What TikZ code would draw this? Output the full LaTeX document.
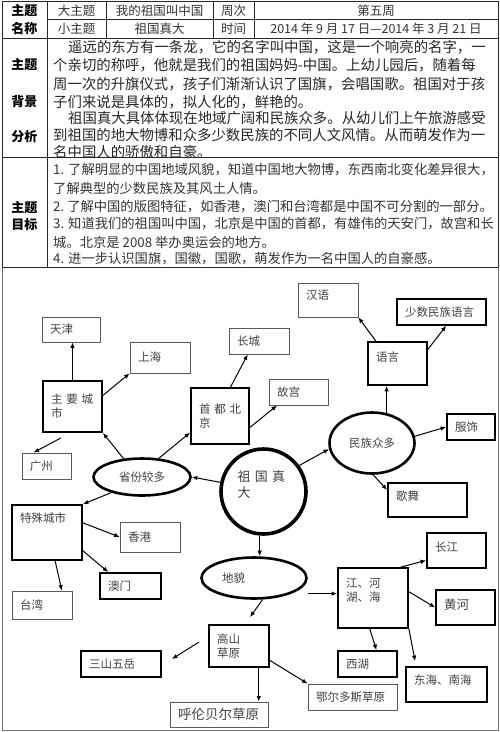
\documentclass[tikz,border=0pt]{standalone}
\usepackage{fontspec}
\setmainfont{Noto Sans CJK SC}
\usetikzlibrary{calc}
\usetikzlibrary{arrows.meta}
\usetikzlibrary{shapes.geometric}

\begin{document}
\begin{tikzpicture}[x=1pt, y=-1pt,
    tbl/.style={line width=0.8pt, black!85},
    cell/.style={inner sep=0pt, text=black!80, font=\fontsize{12.5}{15}\selectfont},
    head/.style={inner sep=0pt, font=\fontsize{13}{15}\selectfont\bfseries},
    para/.style={inner sep=0pt, anchor=west, text=black!85, font=\fontsize{14.4}{18}\selectfont},
    goal/.style={inner sep=0pt, anchor=west, text=black!80, font=\fontsize{13.3}{16}\selectfont},
    box/.style={draw, line width=1.8pt, text=black!75, align=left, inner xsep=8pt, inner ysep=2pt, font=\fontsize{11.5}{13.8}\selectfont},
    thinbox/.style={box, line width=0.8pt, draw=black!65},
    bubble/.style={draw, ellipse, line width=2.6pt, text=black!75, inner sep=0pt, font=\fontsize{11.5}{13.8}\selectfont},
    arr/.style={-{Latex[length=5.5pt,width=4.5pt]}, line width=1pt}]

    \useasboundingbox (0,0) rectangle (500,732);

    % table
    \draw[tbl] (2,267) -- (2,1) -- (498,1) -- (498,267);
    \draw[line width=0.9pt, black!55] (2,267) -- (2,730) -- (498,730) -- (498,267);
    \draw[tbl] (47,19) -- (498,19);
    \draw[tbl] (2,38) -- (498,38);
    \draw[tbl] (2,157) -- (498,157);
    \draw[tbl] (2,267) -- (498,267);
    \draw[tbl] (47,1) -- (47,267);
    \draw[tbl] (106,1) -- (106,38);
    \draw[tbl] (213,1) -- (213,38);
    \draw[tbl] (254,1) -- (254,38);

    \node[head] (h1) at (24.5,11) {主题};
    \node[head] (h2) at (24.5,29) {名称};
    \node[cell] (big) at (76.5,11) {大主题};
    \node[cell] (bigname) at (159.5,11) {我的祖国叫中国};
    \node[cell] (week) at (233.5,11) {周次};
    \node[cell] (weekno) at (376,11) {第五周};
    \node[cell] (small) at (76.5,29) {小主题};
    \node[cell] (smallname) at (159.5,29) {祖国真大};
    \node[cell] (time) at (233.5,29) {时间};
    \node[cell] (date) at (376,29) {2014 年 9 月 17 日—2014 年 3 月 21 日};

    \node[head] (bgA) at (24.5,65) {主题};
    \node[head] (bgB) at (24.5,102) {背景};
    \node[head] (bgC) at (24.5,137) {分析};
    \node[para] (bg1) at (68,47) {遥远的东方有一条龙，它的名字叫中国，这是一个响亮的名字，一};
    \node[para] (bg2) at (53,65.5) {个亲切的称呼，他就是我们的祖国妈妈-中国。上幼儿园后，随着每};
    \node[para] (bg3) at (53,84) {周一次的升旗仪式，孩子们渐渐认识了国旗，会唱国歌。祖国对于孩};
    \node[para] (bg4) at (53,102) {子们来说是具体的，拟人化的，鲜艳的。};
    \node[para] (bg5) at (68,118) {祖国真大具体体现在地域广阔和民族众多。从幼儿们上午旅游感受};
    \node[para] (bg6) at (53,135.5) {到祖国的地大物博和众多少数民族的不同人文风情。从而萌发作为一};
    \node[para] (bg7) at (53,151.5) {名中国人的骄傲和自豪。};

    \node[head] (gA) at (24.5,208) {主题};
    \node[head] (gB) at (24.5,225) {目标};
    \node[goal] (g1) at (53,170) {1. 了解明显的中国地域风貌，知道中国地大物博，东西南北变化差异很大，};
    \node[goal] (g2) at (53,188) {了解典型的少数民族及其风土人情。};
    \node[goal] (g3) at (53,207) {2.\ 了解中国的版图特征，如香港，澳门和台湾都是中国不可分割的一部分。};
    \node[goal] (g4) at (53,224) {3. 知道我们的祖国叫中国，北京是中国的首都，有雄伟的天安门，故宫和长};
    \node[goal] (g5) at (53,242) {城。北京是 2008 举办奥运会的地方。};
    \node[goal] (g6) at (53,259) {4. 进一步认识国旗，国徽，国歌，萌发作为一名中国人的自豪感。};

    % mind map
    \node[draw, circle, line width=3.6pt, minimum size=85pt, inner sep=0pt, text width=52pt, text depth=31pt, align=left, text=black!75, font=\fontsize{13}{15.6}\selectfont] (zuguo) at (263.5,491.5) {祖~国~真\\大};

    \node[bubble, minimum width=97pt, minimum height=37pt] (shengfen) at (142,477) {省份较多};
    \node[bubble, minimum width=85pt, minimum height=61pt] (minzu) at (372,443) {民族众多};
    \node[bubble, minimum width=105pt, minimum height=41pt, text width=64pt, align=left] (dimao) at (254,578) {地貌};

    \node[thinbox, minimum height=25pt, text width=42pt] (tianjin) at (71,329.5) {天津};
    \node[thinbox, minimum height=31pt, text width=44pt] (shanghai) at (160,357.5) {上海};
    \node[box, minimum height=51pt, text width=43pt] (zhuyao) at (72.5,406.5) {主~要~城\\市};
    \node[thinbox, minimum height=26pt, text width=33pt] (guangzhou) at (46.5,466) {广州};
    \node[box, minimum height=56pt, text width=42pt] (shoudu) at (220,416) {首~都~北\\京};
    \node[thinbox, minimum height=26pt, text width=44pt] (changcheng) at (259,341) {长城};
    \node[thinbox, minimum height=26pt, text width=43pt] (gugong) at (298.5,392) {故宫};

    \node[thinbox, minimum height=34pt, text width=44pt, text depth=11pt] (hanyu) at (328,300) {汉语};
    \node[box, line width=1.4pt, minimum height=26pt, text width=73pt] (shaoshu) at (441.5,312) {少数民族语言};
    \node[box, minimum height=43pt, text width=43pt, text depth=13.5pt] (yuyan) at (397.5,363.5) {语言};
    \node[box, minimum height=26pt, text width=32pt] (fushi) at (471,427) {服饰};
    \node[box, minimum height=34pt, text width=63pt, text depth=9.5pt] (gewu) at (427.5,500) {歌舞};

    \node[box, minimum height=55pt, text width=54pt, text depth=29.5pt] (teshu) at (47,532.5) {特殊城市};
    \node[thinbox, minimum height=30pt, text width=44pt] (xianggang) at (150,537) {香港};
    \node[box, minimum height=26pt, text width=45pt] (aomen) at (130.5,586) {澳门};
    \node[thinbox, minimum height=28pt, text width=44pt] (taiwan) at (42,605) {台湾};

    \node[box, minimum height=42pt, text width=44pt] (gaoshan) at (239,646) {高山\\草原};
    \node[box, minimum height=26pt, text width=64pt] (sanshan) at (121,664) {三山五岳};
    \node[thinbox, minimum height=25pt, text width=82pt, font=\fontsize{13.5}{16}\selectfont] (hulun) at (219,714.5) {呼伦贝尔草原};
    \node[thinbox, minimum height=26pt, text width=73pt] (eerduosi) at (352.5,697) {鄂尔多斯草原};

    \node[box, minimum height=60pt, text width=54pt, text depth=31pt] (jiang) at (373,598) {江、河\\湖、海};
    \node[box, minimum height=35pt, text width=43pt, text depth=7pt] (changjiang) at (456.5,550.5) {长江};
    \node[box, minimum height=35pt, text width=43pt, text depth=7pt, font=\fontsize{12.5}{15}\selectfont] (huanghe) at (465.5,607.5) {黄河};
    \node[box, minimum height=26pt, text width=43pt] (xihu) at (367.5,664) {西湖};
    \node[box, minimum height=35pt, text width=65pt, text depth=9pt] (donghai) at (446.5,684.5) {东海、南海};

    \draw[arr] (zuguo.168) -- (shengfen.east);
    \draw[arr] (zuguo.36) -- (minzu.188);
    \draw[arr] (zuguo.-95) -- (zuguo.-95 |- dimao.north);

    \draw[arr] (shengfen.135) -- (zhuyao.south east);
    \draw[arr] (shengfen.48) -- (shoudu.209);
    \draw[arr] (shengfen.207) -- (teshu.north east);
    \draw[arr] (zhuyao.north) -- (zhuyao.north |- tianjin.south);
    \draw[arr] (zhuyao.20) -- (shanghai.south west);
    \draw[arr] ([xshift=-11.5pt,yshift=-5pt]zhuyao.south) -- ([xshift=-13pt]guangzhou.north);
    \draw[arr] (shoudu.70) -- (changcheng.230);
    \draw[arr] (shoudu.-21) -- (gugong.212);

    \draw[arr] (minzu.64) -- (minzu.64 |- yuyan.south);
    \draw[arr] (yuyan.134) -- (hanyu.south east);
    \draw[arr] (yuyan.25) -- (shaoshu.-71);
    \draw[arr] (minzu.9) -- (fushi.west);
    \draw[arr] (minzu.-88) -- (gewu.166);

    \draw[arr] (teshu.15) -- (xianggang.west);
    \draw[arr] (teshu.-27) -- (aomen.148);
    \draw[arr] (teshu.-74) -- (taiwan.36);

    \draw[arr] (dimao.-68) -- ([xshift=11pt,yshift=7pt]gaoshan.north);
    \draw[arr] (dimao.east |- jiang.173) -- (jiang.173);
    \draw[arr] ([xshift=-9pt,yshift=4pt]gaoshan.west) -- ([xshift=10pt,yshift=5pt]sanshan.east);
    \draw[arr] (gaoshan.-48) -- (gaoshan.-48 |- hulun.north);
    \draw[arr] (gaoshan.-25) -- (eerduosi.north west);

    \draw[arr] (jiang.48) -- (changjiang.198);
    \draw[arr] (jiang.10) -- (huanghe.west);
    \draw[arr] (jiang.-96) -- (xihu.57);
    \draw[arr] (jiang.south east) -- ([xshift=10pt,yshift=5pt]donghai.north west);
\end{tikzpicture}
\end{document}
